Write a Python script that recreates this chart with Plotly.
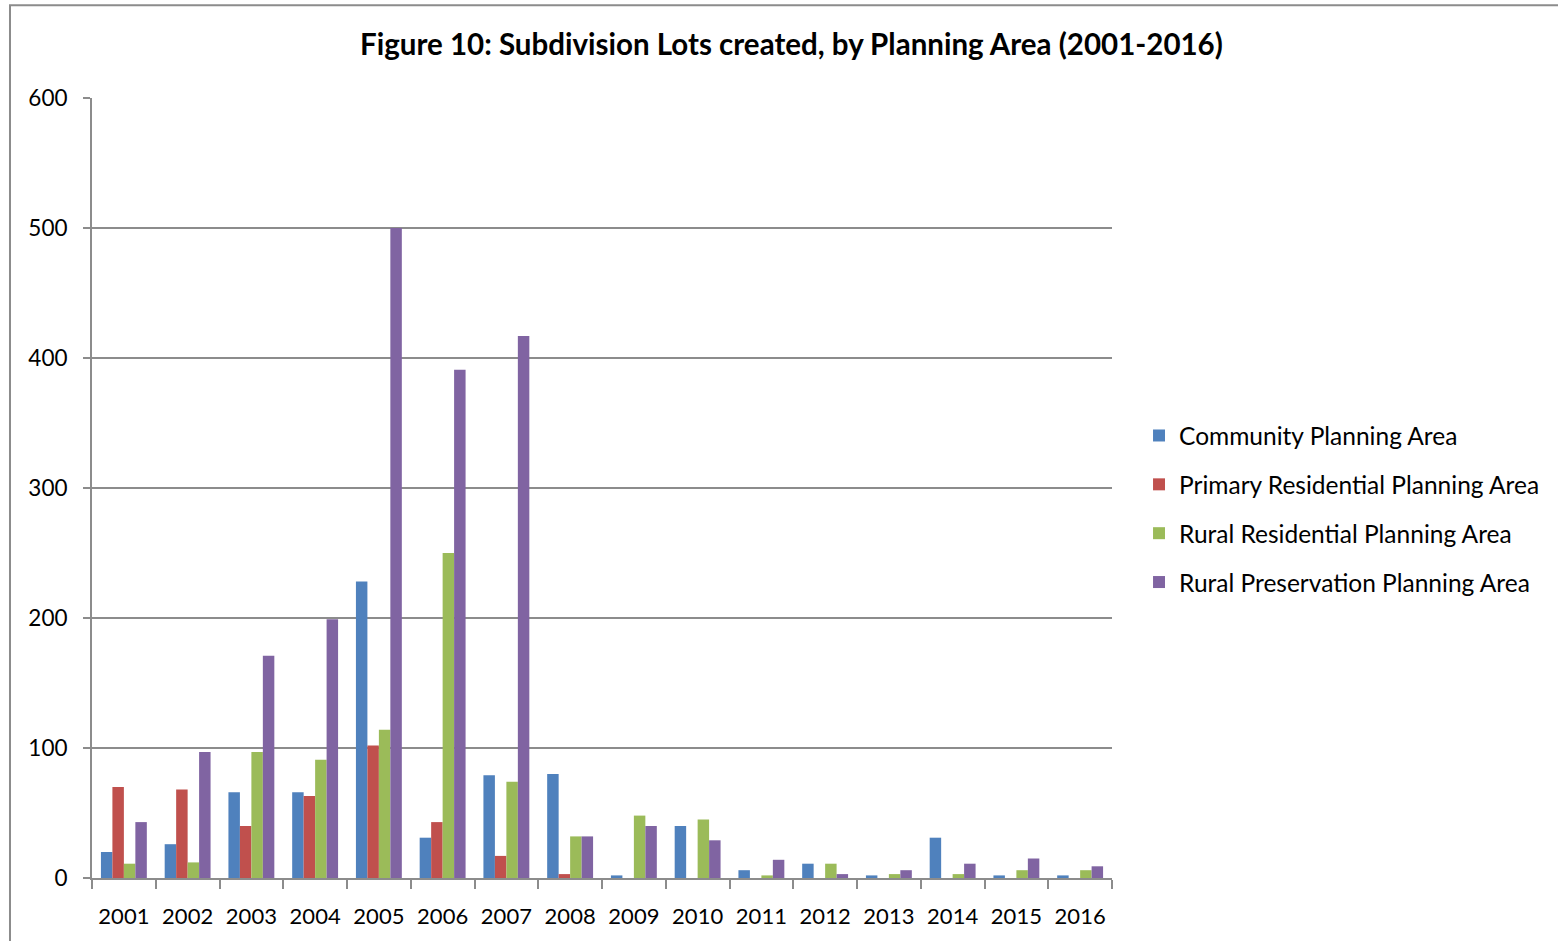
import plotly.graph_objects as go

# Subdivision lots created per year, by planning area
years = [str(y) for y in range(2001, 2017)]

community = [20, 26, 66, 66, 228, 31, 79, 80, 2, 40, 6, 11, 2, 31, 2, 2]
primary_residential = [70, 68, 40, 63, 102, 43, 17, 3, 0, 0, 0, 0, 0, 0, 0, 0]
rural_residential = [11, 12, 97, 91, 114, 250, 74, 32, 48, 45, 2, 11, 3, 3, 6, 6]
rural_preservation = [43, 97, 171, 199, 500, 391, 417, 32, 40, 29, 14, 3, 6, 11, 15, 9]

series_names = [
    "Community Planning Area",
    "Primary Residential Planning Area",
    "Rural Residential Planning Area",
    "Rural Preservation Planning Area",
]
series_values = [community, primary_residential, rural_residential, rural_preservation]
series_colors = ["#4F81BD", "#C0504D", "#9BBB59", "#8064A2"]

FONT = "Lato, 'Liberation Sans', sans-serif"
GRID = "#8C8C8C"

fig = go.Figure()
for name, vals, color in zip(series_names, series_values, series_colors):
    fig.add_trace(go.Bar(
        x=years, y=vals, name=name, legendgroup=name,
        marker=dict(color=color, line=dict(width=0)),
    ))

fig.update_layout(
    width=1558, height=941,
    margin=dict(l=92, r=446, t=98, b=63),
    paper_bgcolor="white", plot_bgcolor="white",
    barmode="group", bargap=0.28, bargroupgap=0,
    font=dict(family=FONT, size=22, color="black"),
    title=dict(
        text="<b>Figure 10: Subdivision Lots created, by Planning Area (2001-2016)</b>",
        x=0.508, xanchor="center", y=0.952, yanchor="middle",
        font=dict(family=FONT, size=29.5, color="black"),
    ),
    legend=dict(
        x=1.0265, xanchor="left", y=0.473, yanchor="middle",
        font=dict(family=FONT, size=24.5, color="black"),
        tracegroupgap=14, itemwidth=30,
        bgcolor="rgba(0,0,0,0)",
    ),
    xaxis=dict(
        type="category", tickson="boundaries",
        ticks="outside", ticklen=9, tickwidth=2, tickcolor=GRID,
        showline=True, linecolor=GRID, linewidth=2,
        showgrid=False,
        tickfont=dict(family=FONT, size=22, color="black"),
        ticklabelstandoff=18,
    ),
    yaxis=dict(
        range=[0, 600], dtick=100,
        ticks="outside", ticklen=7, tickwidth=2, tickcolor=GRID,
        showline=True, linecolor=GRID, linewidth=2,
        showgrid=True, gridcolor=GRID, gridwidth=2,
        zeroline=False,
        tickfont=dict(family=FONT, size=22.5, color="black"),
        ticklabelstandoff=11,
    ),
    shapes=[dict(
        type="rect", xref="paper", yref="paper",
        x0=-0.0804, x1=1.45, y0=-0.1, y1=1.119,
        line=dict(color="#8C8C8C", width=2), fillcolor="rgba(0,0,0,0)",
        layer="below",
    )],
)

fig.write_html("out.html")
